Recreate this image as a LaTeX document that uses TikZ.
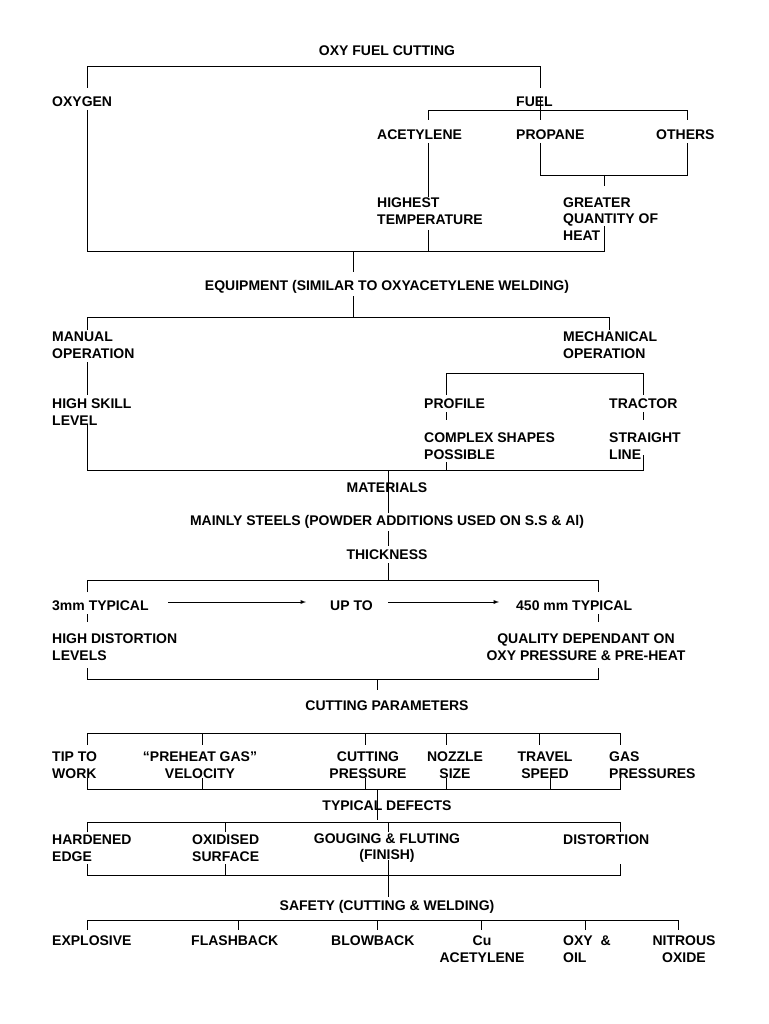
\documentclass[tikz,border=0pt]{standalone}
\usepackage{fontspec}
\setmainfont{Liberation Sans}
\begin{document}
\begin{tikzpicture}[x=1pt,y=-1pt,
  t/.style={font=\bfseries\fontsize{14}{16.5}\selectfont,inner sep=0pt,anchor=west,align=left},
  c/.style={font=\bfseries\fontsize{14}{16.5}\selectfont,inner sep=0pt,align=center},
  ln/.style={line width=0.9pt}]
\useasboundingbox (0,0) rectangle (768,1024);
\node[c] (title) at (387,51) {OXY FUEL CUTTING};
\node[t] (oxy) at (52,102) {OXYGEN};
\node[t] (fuel) at (516,102) {FUEL};
\node[t] (acet) at (377,135) {ACETYLENE};
\node[t] (prop) at (516,135) {PROPANE};
\node[t] (oth) at (656,135) {OTHERS};
\node[t] (high) at (377,211) {HIGHEST\\TEMPERATURE};
\node[t] (great) at (563,219) {GREATER\\QUANTITY OF\\HEAT};
\node[c] (equip) at (387,287) {EQUIPMENT (SIMILAR TO OXYACETYLENE WELDING)};
\node[t] (man) at (52,345) {MANUAL\\OPERATION};
\node[t] (mech) at (563,345) {MECHANICAL\\OPERATION};
\node[t] (skill) at (52,412) {HIGH SKILL\\LEVEL};
\node[t] (prof) at (424,404) {PROFILE};
\node[t] (trac) at (609,404) {TRACTOR};
\node[t] (cplx) at (424,446) {COMPLEX SHAPES\\POSSIBLE};
\node[t] (str) at (609,446) {STRAIGHT\\LINE};
\node[c] (mat) at (387,488) {MATERIALS};
\node[c] (steel) at (387,522) {MAINLY STEELS (POWDER ADDITIONS USED ON S.S \& Al)};
\node[c] (thick) at (387,555) {THICKNESS};
\node[t] (mm3) at (52,606) {3mm TYPICAL};
\node[t] (upto) at (330,606) {UP TO};
\node[t] (mm450) at (516,606) {450 mm TYPICAL};
\node[t] (hdist) at (52,647) {HIGH DISTORTION\\LEVELS};
\node[c] (qual) at (586,647) {QUALITY DEPENDANT ON\\OXY PRESSURE \& PRE-HEAT};
\node[c] (cpar) at (387,706) {CUTTING PARAMETERS};
\node[t] (tip) at (52,765) {TIP TO\\WORK};
\node[c] (pre) at (200,765) {``PREHEAT GAS''\\VELOCITY};
\node[c] (cpr) at (368,765) {CUTTING\\PRESSURE};
\node[c] (noz) at (455,765) {NOZZLE\\SIZE};
\node[c] (trav) at (545,765) {TRAVEL\\SPEED};
\node[t] (gas) at (609,765) {GAS\\PRESSURES};
\node[c] (def) at (387,806) {TYPICAL DEFECTS};
\node[t] (hard) at (52,848) {HARDENED\\EDGE};
\node[t] (oxid) at (192,848) {OXIDISED\\SURFACE};
\node[c] (goug) at (387,848) {GOUGING \& FLUTING\\(FINISH)};
\node[t] (dist) at (563,840) {DISTORTION};
\node[c] (saf) at (387,907) {SAFETY (CUTTING \& WELDING)};
\node[t] (expl) at (52,941) {EXPLOSIVE};
\node[t] (flash) at (191,941) {FLASHBACK};
\node[t] (blow) at (331,941) {BLOWBACK};
\node[c] (cu) at (482,949) {Cu\\ACETYLENE};
\node[t] (oil) at (563,949) {OXY\ \ \&\\OIL};
\node[c] (nitr) at (684,949) {NITROUS\\OXIDE};
% lines
\draw[ln] (87,88) -- (87,66) -- (540,66) -- (540,88);
\draw[ln] (87,110) -- (87,251) -- (604,251) -- (604,226);
\draw[ln] (540,97) -- (540,120);
\draw[ln] (428,120) -- (428,110) -- (687,110) -- (687,120);
\draw[ln] (428,143) -- (428,197);
\draw[ln] (428,230) -- (428,251);
\draw[ln] (540,143) -- (540,175) -- (687,175) -- (687,143);
\draw[ln] (604,175) -- (604,186);
\draw[ln] (353,251) -- (353,272);
\draw[ln] (353,296) -- (353,317);
\draw[ln] (87,330) -- (87,317) -- (609,317) -- (609,330);
\draw[ln] (87,362) -- (87,395);
\draw[ln] (87,425) -- (87,470) -- (643,470) -- (643,455);
\draw[ln] (446,395) -- (446,373) -- (643,373) -- (643,395);
\draw[ln] (446,412) -- (446,420);
\draw[ln] (643,412) -- (643,420);
\draw[ln] (446,462) -- (446,470);
\draw[ln] (388,470) -- (388,513);
\draw[ln] (388,531) -- (388,546);
\draw[ln] (388,563) -- (388,580);
\draw[ln] (87,592) -- (87,580) -- (598,580) -- (598,592);
\draw[ln,-latex] (168,602) -- (306,602);
\draw[ln,-latex] (388,602) -- (499,602);
\draw[ln] (87,614) -- (87,622);
\draw[ln] (598,614) -- (598,622);
\draw[ln] (87,668) -- (87,679) -- (598,679) -- (598,668);
\draw[ln] (377,680) -- (377,690);
\draw[ln] (87,745) -- (87,733) -- (620,733) -- (620,745);
\foreach \x in {202,365,446,539} \draw[ln] (\x,733) -- (\x,745);
\draw[ln] (87,778) -- (87,789) -- (620,789) -- (620,778);
\foreach \x in {202,365,446,550} \draw[ln] (\x,778) -- (\x,789);
\draw[ln] (377,789) -- (377,820);
\draw[ln] (87,832) -- (87,822) -- (620,822) -- (620,832);
\foreach \x in {225,388} \draw[ln] (\x,822) -- (\x,832);
\draw[ln] (87,864) -- (87,875) -- (620,875) -- (620,864);
\draw[ln] (225,864) -- (225,875);
\draw[ln] (388,860) -- (388,897);
\draw[ln] (87,930) -- (87,920) -- (678,920) -- (678,930);
\foreach \x in {238,377,481,585} \draw[ln] (\x,920) -- (\x,930);
\end{tikzpicture}
\end{document}
